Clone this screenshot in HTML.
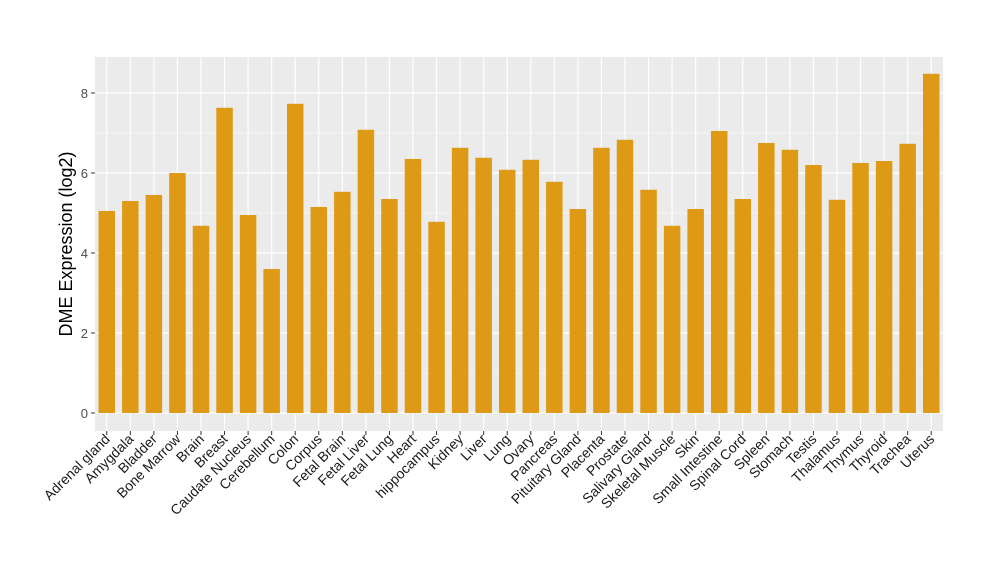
<!DOCTYPE html>
<html><head><meta charset="utf-8"><style>body{margin:0;background:#fff}svg{display:block}</style></head>
<body>
<svg id="s" width="1000" height="580" xmlns="http://www.w3.org/2000/svg" font-family="Liberation Sans, sans-serif"></svg>
<script>
const names=["Adrenal gland","Amygdala","Bladder","Bone Marrow","Brain","Breast","Caudate Nucleus","Cerebellum","Colon","Corpus","Fetal Brain","Fetal Liver","Fetal Lung","Heart","hippocampus","Kidney","Liver","Lung","Ovary","Pancreas","Pituitary Gland","Placenta","Prostate","Salivary Gland","Skeletal Muscle","Skin","Small Intestine","Spinal Cord","Spleen","Stomach","Testis","Thalamus","Thymus","Thyroid","Trachea","Uterus"];
const vals=[5.05,5.3,5.45,6.0,4.68,7.63,4.95,3.6,7.73,5.15,5.53,7.08,5.35,6.35,4.78,6.63,6.38,6.08,6.33,5.78,5.1,6.63,6.83,5.58,4.68,5.1,7.05,5.35,6.75,6.58,6.2,5.33,6.25,6.3,6.73,8.48];
const L=95,R=943,T=57,B=431,y0=413,k=40,step=(R-L)/36;
let h=`<rect x="${L}" y="${T}" width="${R-L}" height="${B-T}" fill="#EBEBEB"/>`;
for(let v=-1;v<=9;v+=2){const y=y0-v*k;if(y>T&&y<B)h+=`<line x1="${L}" x2="${R}" y1="${y}" y2="${y}" stroke="#fff" stroke-width="0.6"/>`;}
for(let v=0;v<=8;v+=2){const y=y0-v*k;h+=`<line x1="${L}" x2="${R}" y1="${y}" y2="${y}" stroke="#fff" stroke-width="1.2"/><line x1="${L-4}" x2="${L}" y1="${y}" y2="${y}" stroke="#333"/><text x="${L-7}" y="${y+5}" text-anchor="end" font-size="13" fill="#4d4d4d">${v}</text>`;}
names.forEach((n,i)=>{const c=L+step*(i+0.5);h+=`<line x1="${c}" x2="${c}" y1="${T}" y2="${B}" stroke="#fff" stroke-width="1.2"/>`;});
names.forEach((n,i)=>{const c=L+step*(i+0.5),w=step*0.7,top=y0-vals[i]*k;
h+=`<rect x="${c-w/2}" y="${top}" width="${w}" height="${y0-top}" fill="#DE9A14"/>`;
h+=`<line x1="${c}" x2="${c}" y1="${B}" y2="${B+4}" stroke="#333"/>`;
h+=`<text transform="translate(${c+4},${B+9}) rotate(-45)" text-anchor="end" font-size="14" fill="#1a1a1a">${n}</text>`;});
h+=`<text transform="translate(72,244) rotate(-90)" text-anchor="middle" font-size="18" fill="#000">DME Expression (log2)</text>`;
document.getElementById('s').innerHTML=h;
</script>
</body></html>
